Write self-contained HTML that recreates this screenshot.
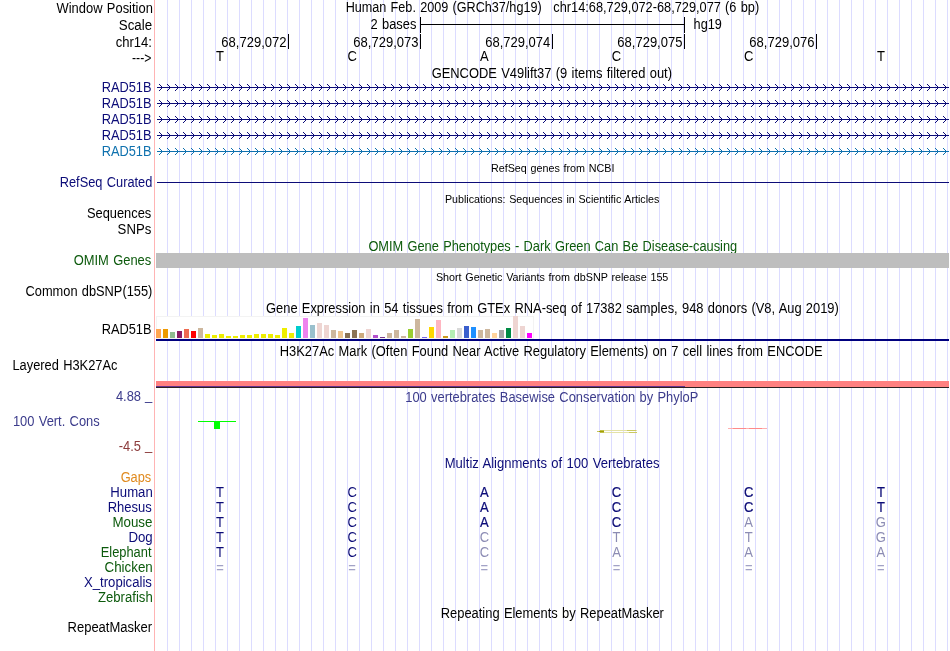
<!DOCTYPE html>
<html lang="en"><head><meta charset="utf-8"><title>UCSC Genome Browser - chr14:68,729,072-68,729,077</title>
<style>html,body{margin:0;padding:0;background:#fff;overflow:hidden}svg{display:block}text{font-family:"Liberation Sans",Arial,Helvetica,sans-serif;font-size:14px;fill:#000;word-spacing:0.8px}.r{text-anchor:end}.c{text-anchor:middle}.s{font-size:11.5px}</style></head><body>
<svg width="950" height="651" viewBox="0 0 950 651">
<defs><pattern id="chevN" x="155" y="84" width="8" height="16" patternUnits="userSpaceOnUse"><path d="M4 0h1v1h1v1h1v1h1v1h-1v1h-1v1h-1v1h-1v-1h1v-1h1v-1h1v-1h-1v-1h-1v-1h-1z" fill="#0c0c78"/></pattern><pattern id="chevT" x="155" y="84" width="8" height="16" patternUnits="userSpaceOnUse"><path d="M4 0h1v1h1v1h1v1h1v1h-1v1h-1v1h-1v1h-1v-1h1v-1h1v-1h1v-1h-1v-1h-1v-1h-1z" fill="#0e71ae"/></pattern></defs>
<rect width="950" height="651" fill="#fff"/>
<g shape-rendering="crispEdges">
<path d="M167 0v651M179 0v651M191 0v651M203 0v651M215 0v651M227 0v651M239 0v651M251 0v651M263 0v651M275 0v651M287 0v651M299 0v651M311 0v651M323 0v651M335 0v651M347 0v651M359 0v651M371 0v651M383 0v651M395 0v651M407 0v651M419 0v651M431 0v651M443 0v651M455 0v651M467 0v651M479 0v651M491 0v651M503 0v651M515 0v651M527 0v651M539 0v651M551 0v651M563 0v651M575 0v651M587 0v651M599 0v651M611 0v651M623 0v651M635 0v651M647 0v651M659 0v651M671 0v651M683 0v651M695 0v651M707 0v651M719 0v651M731 0v651M743 0v651M755 0v651M767 0v651M779 0v651M791 0v651M803 0v651M815 0v651M827 0v651M839 0v651M851 0v651M863 0v651M875 0v651M887 0v651M899 0v651M911 0v651M923 0v651M935 0v651M947 0v651" stroke="#dcdcff" stroke-width="1" transform="translate(.5 0)" fill="none"/>
<rect x="154" y="0" width="1" height="651" fill="#ffb4b4"/>
</g>
<text x="56.54" y="13" textLength="96.30" lengthAdjust="spacingAndGlyphs">Window Position</text>
<text x="118.80" y="30" textLength="33.30" lengthAdjust="spacingAndGlyphs">Scale</text>
<text x="115.64" y="46.5" textLength="36.35" lengthAdjust="spacingAndGlyphs">chr14:</text>
<text x="132.06" y="63" textLength="19.34" lengthAdjust="spacingAndGlyphs">---&gt;</text>
<text x="101.65" y="92" style="fill:#0c0c78" textLength="49.83" lengthAdjust="spacingAndGlyphs">RAD51B</text>
<text x="101.65" y="108" style="fill:#0c0c78" textLength="49.83" lengthAdjust="spacingAndGlyphs">RAD51B</text>
<text x="101.65" y="124" style="fill:#0c0c78" textLength="49.83" lengthAdjust="spacingAndGlyphs">RAD51B</text>
<text x="101.65" y="140" style="fill:#0c0c78" textLength="49.83" lengthAdjust="spacingAndGlyphs">RAD51B</text>
<text x="101.65" y="156" style="fill:#0e71ae" textLength="49.83" lengthAdjust="spacingAndGlyphs">RAD51B</text>
<text x="59.75" y="187" style="fill:#0c0c78" textLength="92.58" lengthAdjust="spacingAndGlyphs">RefSeq Curated</text>
<text x="86.92" y="218" textLength="64.35" lengthAdjust="spacingAndGlyphs">Sequences</text>
<text x="117.60" y="234" textLength="33.67" lengthAdjust="spacingAndGlyphs">SNPs</text>
<text x="73.69" y="265" style="fill:#0c5a0c" textLength="77.58" lengthAdjust="spacingAndGlyphs">OMIM Genes</text>
<text x="25.55" y="296" textLength="126.74" lengthAdjust="spacingAndGlyphs">Common dbSNP(155)</text>
<text x="101.65" y="334" textLength="49.83" lengthAdjust="spacingAndGlyphs">RAD51B</text>
<text x="12.45" y="370" textLength="104.99" lengthAdjust="spacingAndGlyphs">Layered H3K27Ac</text>
<text x="115.90" y="401" style="fill:#3c3c8c" textLength="25.16" lengthAdjust="spacingAndGlyphs">4.88</text>
<text x="145.10" y="399.9" style="fill:#3c3c8c" textLength="7.26" lengthAdjust="spacingAndGlyphs">_</text>
<text x="12.93" y="426" style="fill:#3c3c8c" textLength="86.74" lengthAdjust="spacingAndGlyphs">100 Vert. Cons</text>
<text x="118.83" y="451" style="fill:#8c3c3c" textLength="22.21" lengthAdjust="spacingAndGlyphs">-4.5</text>
<text x="145.10" y="449.9" style="fill:#8c3c3c" textLength="7.26" lengthAdjust="spacingAndGlyphs">_</text>
<text x="120.66" y="482" style="fill:#e08a1e" textLength="30.61" lengthAdjust="spacingAndGlyphs">Gaps</text>
<text x="110.32" y="497" style="fill:#0c0c78" textLength="42.43" lengthAdjust="spacingAndGlyphs">Human</text>
<text x="107.73" y="512" style="fill:#0c0c78" textLength="44.14" lengthAdjust="spacingAndGlyphs">Rhesus</text>
<text x="112.40" y="527" style="fill:#0c5a0c" textLength="40.09" lengthAdjust="spacingAndGlyphs">Mouse</text>
<text x="128.41" y="542" style="fill:#0c0c78" textLength="24.34" lengthAdjust="spacingAndGlyphs">Dog</text>
<text x="100.75" y="557" style="fill:#0c5a0c" textLength="50.75" lengthAdjust="spacingAndGlyphs">Elephant</text>
<text x="104.52" y="572" style="fill:#0c5a0c" textLength="48.25" lengthAdjust="spacingAndGlyphs">Chicken</text>
<text x="84.01" y="587" style="fill:#0c0c78" textLength="67.87" lengthAdjust="spacingAndGlyphs">X_tropicalis</text>
<text x="97.98" y="602" style="fill:#0c5a0c" textLength="54.77" lengthAdjust="spacingAndGlyphs">Zebrafish</text>
<text x="67.53" y="632" textLength="84.58" lengthAdjust="spacingAndGlyphs">RepeatMasker</text>
<text x="345.66" y="12" textLength="196.02" lengthAdjust="spacingAndGlyphs">Human Feb. 2009 (GRCh37/hg19)</text>
<text x="553.36" y="12" textLength="205.83" lengthAdjust="spacingAndGlyphs">chr14:68,729,072-68,729,077 (6 bp)</text>
<text x="370.55" y="29" textLength="45.81" lengthAdjust="spacingAndGlyphs">2 bases</text>
<text x="693.62" y="29" textLength="28.28" lengthAdjust="spacingAndGlyphs">hg19</text>
<g shape-rendering="crispEdges" fill="#000"><rect x="421" y="24" width="263" height="1"/><rect x="420" y="17" width="1" height="16"/><rect x="684" y="17" width="1" height="16"/></g>
<text x="221.34" y="47" textLength="65.22" lengthAdjust="spacingAndGlyphs">68,729,072</text>
<rect x="288" y="34" width="1" height="15" fill="#000" shape-rendering="crispEdges"/>
<text x="353.34" y="47" textLength="65.13" lengthAdjust="spacingAndGlyphs">68,729,073</text>
<rect x="420" y="34" width="1" height="15" fill="#000" shape-rendering="crispEdges"/>
<text x="485.34" y="47" textLength="64.94" lengthAdjust="spacingAndGlyphs">68,729,074</text>
<rect x="552" y="34" width="1" height="15" fill="#000" shape-rendering="crispEdges"/>
<text x="617.34" y="47" textLength="65.11" lengthAdjust="spacingAndGlyphs">68,729,075</text>
<rect x="684" y="34" width="1" height="15" fill="#000" shape-rendering="crispEdges"/>
<text x="749.34" y="47" textLength="65.13" lengthAdjust="spacingAndGlyphs">68,729,076</text>
<rect x="816" y="34" width="1" height="15" fill="#000" shape-rendering="crispEdges"/>
<text x="220.0" y="61" class="c" textLength="7.95" lengthAdjust="spacingAndGlyphs">T</text>
<text x="352.16999999999996" y="61" class="c" textLength="9.40" lengthAdjust="spacingAndGlyphs">C</text>
<text x="484.34" y="61" class="c" textLength="8.68" lengthAdjust="spacingAndGlyphs">A</text>
<text x="616.51" y="61" class="c" textLength="9.40" lengthAdjust="spacingAndGlyphs">C</text>
<text x="748.68" y="61" class="c" textLength="9.40" lengthAdjust="spacingAndGlyphs">C</text>
<text x="880.8499999999999" y="61" class="c" textLength="7.95" lengthAdjust="spacingAndGlyphs">T</text>
<text x="431.65" y="78" textLength="240.35" lengthAdjust="spacingAndGlyphs">GENCODE V49lift37 (9 items filtered out)</text>
<g shape-rendering="crispEdges" fill="#0c0c78"><rect x="157" y="87" width="792" height="1"/><rect x="157" y="84" width="792" height="7" fill="url(#chevN)"/></g>
<g shape-rendering="crispEdges" fill="#0c0c78"><rect x="157" y="103" width="792" height="1"/><rect x="157" y="100" width="792" height="7" fill="url(#chevN)"/></g>
<g shape-rendering="crispEdges" fill="#0c0c78"><rect x="157" y="119" width="792" height="1"/><rect x="157" y="116" width="792" height="7" fill="url(#chevN)"/></g>
<g shape-rendering="crispEdges" fill="#0c0c78"><rect x="157" y="135" width="792" height="1"/><rect x="157" y="132" width="792" height="7" fill="url(#chevN)"/></g>
<g shape-rendering="crispEdges" fill="#0e71ae"><rect x="157" y="151" width="792" height="1"/><rect x="157" y="148" width="792" height="7" fill="url(#chevT)"/></g>
<text x="490.92" y="172" class="s" textLength="123.47" lengthAdjust="spacingAndGlyphs">RefSeq genes from NCBI</text>
<rect x="157" y="182" width="792" height="1" fill="#0c0c78" shape-rendering="crispEdges"/>
<text x="444.93" y="203" class="s" textLength="214.46" lengthAdjust="spacingAndGlyphs">Publications: Sequences in Scientific Articles</text>
<text x="368.39" y="251" style="fill:#0c5a0c" textLength="368.83" lengthAdjust="spacingAndGlyphs">OMIM Gene Phenotypes - Dark Green Can Be Disease-causing</text>
<rect x="156" y="253" width="793" height="15" fill="#bebebe" shape-rendering="crispEdges"/>
<text x="435.91" y="280.5" class="s" textLength="232.44" lengthAdjust="spacingAndGlyphs">Short Genetic Variants from dbSNP release 155</text>
<text x="266.05" y="313" textLength="572.74" lengthAdjust="spacingAndGlyphs">Gene Expression in 54 tissues from GTEx RNA-seq of 17382 samples, 948 donors (V8, Aug 2019)</text>
<g shape-rendering="crispEdges">
<rect x="156" y="316" width="378" height="23" fill="#f3f3f3"/><rect x="157" y="317" width="376" height="21" fill="#fff"/>
<rect x="156" y="329" width="5" height="9" fill="#FFA54F"/>
<rect x="163" y="329" width="5" height="9" fill="#EE9A00"/>
<rect x="170" y="332" width="5" height="6" fill="#8FBC8F"/>
<rect x="177" y="331" width="5" height="7" fill="#8B1C62"/>
<rect x="184" y="329" width="5" height="9" fill="#EE6A50"/>
<rect x="191" y="331" width="5" height="7" fill="#FF0000"/>
<rect x="198" y="328" width="5" height="10" fill="#CDB79E"/>
<rect x="205" y="334" width="5" height="4" fill="#EEEE00"/>
<rect x="212" y="335" width="5" height="3" fill="#EEEE00"/>
<rect x="219" y="334" width="5" height="4" fill="#EEEE00"/>
<rect x="226" y="336" width="5" height="2" fill="#EEEE00"/>
<rect x="233" y="336" width="5" height="2" fill="#EEEE00"/>
<rect x="240" y="335" width="5" height="3" fill="#EEEE00"/>
<rect x="247" y="335" width="5" height="3" fill="#EEEE00"/>
<rect x="254" y="334" width="5" height="4" fill="#EEEE00"/>
<rect x="261" y="334" width="5" height="4" fill="#EEEE00"/>
<rect x="268" y="334" width="5" height="4" fill="#EEEE00"/>
<rect x="275" y="335" width="5" height="3" fill="#EEEE00"/>
<rect x="282" y="328" width="5" height="10" fill="#EEEE00"/>
<rect x="289" y="333" width="5" height="5" fill="#EEEE00"/>
<rect x="296" y="326" width="5" height="12" fill="#00CDCD"/>
<rect x="303" y="318" width="5" height="20" fill="#EE82EE"/>
<rect x="310" y="325" width="5" height="13" fill="#9AC0CD"/>
<rect x="317" y="323" width="5" height="15" fill="#EED5D2"/>
<rect x="324" y="325" width="5" height="13" fill="#EED5D2"/>
<rect x="331" y="330" width="5" height="8" fill="#CDB79E"/>
<rect x="338" y="331" width="5" height="7" fill="#EEC591"/>
<rect x="345" y="333" width="5" height="5" fill="#8B7355"/>
<rect x="352" y="330" width="5" height="8" fill="#8B7355"/>
<rect x="359" y="333" width="5" height="5" fill="#CDAA7D"/>
<rect x="366" y="329" width="5" height="9" fill="#EED5D2"/>
<rect x="373" y="335" width="5" height="3" fill="#B452CD"/>
<rect x="380" y="337" width="5" height="1" fill="#7A378B"/>
<rect x="387" y="333" width="5" height="5" fill="#CDB79E"/>
<rect x="394" y="330" width="5" height="8" fill="#CDB79E"/>
<rect x="401" y="336" width="5" height="2" fill="#CDB79E"/>
<rect x="408" y="329" width="5" height="9" fill="#9ACD32"/>
<rect x="415" y="319" width="5" height="19" fill="#CDB79E"/>
<rect x="422" y="337" width="5" height="1" fill="#7A67EE"/>
<rect x="429" y="327" width="5" height="11" fill="#FFD700"/>
<rect x="436" y="320" width="5" height="18" fill="#FFB6C1"/>
<rect x="443" y="336" width="5" height="2" fill="#CD9B1D"/>
<rect x="450" y="330" width="5" height="8" fill="#B4EEB4"/>
<rect x="457" y="328" width="5" height="10" fill="#D9D9D9"/>
<rect x="464" y="326" width="5" height="12" fill="#3A5FCD"/>
<rect x="471" y="327" width="5" height="11" fill="#1E90FF"/>
<rect x="478" y="330" width="5" height="8" fill="#CDB79E"/>
<rect x="485" y="329" width="5" height="9" fill="#CDB79E"/>
<rect x="492" y="333" width="5" height="5" fill="#FFD39B"/>
<rect x="499" y="330" width="5" height="8" fill="#A6A6A6"/>
<rect x="506" y="328" width="5" height="10" fill="#008B45"/>
<rect x="513" y="316" width="5" height="22" fill="#EED5D2"/>
<rect x="520" y="326" width="5" height="12" fill="#EED5D2"/>
<rect x="527" y="333" width="5" height="5" fill="#FF00FF"/>
<rect x="156" y="339" width="793" height="2" fill="#00007f"/>
</g>
<text x="279.74" y="356" textLength="542.81" lengthAdjust="spacingAndGlyphs">H3K27Ac Mark (Often Found Near Active Regulatory Elements) on 7 cell lines from ENCODE</text>
<g shape-rendering="crispEdges"><rect x="156" y="381" width="793" height="6" fill="#ff8080"/><rect x="156" y="386" width="529" height="1" fill="#64328c"/><rect x="156" y="387" width="793" height="1" fill="#2a2020"/></g>
<text x="405.22" y="402" style="fill:#3c3c8c" textLength="293.16" lengthAdjust="spacingAndGlyphs">100 vertebrates Basewise Conservation by PhyloP</text>
<g shape-rendering="crispEdges"><rect x="198" y="421" width="38" height="1" fill="#00ff00"/><rect x="214" y="421" width="6" height="8" fill="#00ff00"/></g>
<g shape-rendering="crispEdges"><rect x="601" y="430" width="36" height="1" fill="#e4e2a8"/><rect x="601" y="432" width="36" height="1" fill="#e4e2a8"/><rect x="627" y="430" width="9" height="1" fill="#cbc962"/><rect x="629" y="432" width="8" height="1" fill="#cbc962"/><rect x="600" y="430" width="4" height="1" fill="#c0be48"/><rect x="600" y="432" width="4" height="1" fill="#c0be48"/><rect x="597" y="431" width="2" height="1" fill="#c6c45a"/><rect x="599" y="431" width="5" height="1" fill="#a3a100"/></g>
<g shape-rendering="crispEdges"><rect x="728" y="428" width="39" height="1" fill="#ffb0b0"/><rect x="733" y="428" width="13" height="1" fill="#ff8a8a"/><rect x="749" y="428" width="13" height="1" fill="#ff8a8a"/></g>
<text x="444.74" y="468" style="fill:#0c0c78" textLength="214.73" lengthAdjust="spacingAndGlyphs">Multiz Alignments of 100 Vertebrates</text>
<text x="220.0" y="497" class="c" style="fill:#0c0c78" textLength="7.95" lengthAdjust="spacingAndGlyphs">T</text>
<text x="352.16999999999996" y="497" class="c" style="fill:#0c0c78" textLength="9.40" lengthAdjust="spacingAndGlyphs">C</text>
<text x="484.34" y="497" class="c" style="fill:#0c0c78" stroke="#0c0c78" stroke-width=".22" textLength="8.68" lengthAdjust="spacingAndGlyphs">A</text>
<text x="616.51" y="497" class="c" style="fill:#0c0c78" stroke="#0c0c78" stroke-width=".22" textLength="9.40" lengthAdjust="spacingAndGlyphs">C</text>
<text x="748.68" y="497" class="c" style="fill:#0c0c78" stroke="#0c0c78" stroke-width=".22" textLength="9.40" lengthAdjust="spacingAndGlyphs">C</text>
<text x="880.8499999999999" y="497" class="c" style="fill:#0c0c78" stroke="#0c0c78" stroke-width=".22" textLength="7.95" lengthAdjust="spacingAndGlyphs">T</text>
<text x="220.0" y="512" class="c" style="fill:#0c0c78" textLength="7.95" lengthAdjust="spacingAndGlyphs">T</text>
<text x="352.16999999999996" y="512" class="c" style="fill:#0c0c78" textLength="9.40" lengthAdjust="spacingAndGlyphs">C</text>
<text x="484.34" y="512" class="c" style="fill:#0c0c78" stroke="#0c0c78" stroke-width=".22" textLength="8.68" lengthAdjust="spacingAndGlyphs">A</text>
<text x="616.51" y="512" class="c" style="fill:#0c0c78" stroke="#0c0c78" stroke-width=".22" textLength="9.40" lengthAdjust="spacingAndGlyphs">C</text>
<text x="748.68" y="512" class="c" style="fill:#0c0c78" stroke="#0c0c78" stroke-width=".22" textLength="9.40" lengthAdjust="spacingAndGlyphs">C</text>
<text x="880.8499999999999" y="512" class="c" style="fill:#0c0c78" stroke="#0c0c78" stroke-width=".22" textLength="7.95" lengthAdjust="spacingAndGlyphs">T</text>
<text x="220.0" y="527" class="c" style="fill:#0c0c78" textLength="7.95" lengthAdjust="spacingAndGlyphs">T</text>
<text x="352.16999999999996" y="527" class="c" style="fill:#0c0c78" textLength="9.40" lengthAdjust="spacingAndGlyphs">C</text>
<text x="484.34" y="527" class="c" style="fill:#0c0c78" stroke="#0c0c78" stroke-width=".22" textLength="8.68" lengthAdjust="spacingAndGlyphs">A</text>
<text x="616.51" y="527" class="c" style="fill:#0c0c78" stroke="#0c0c78" stroke-width=".22" textLength="9.40" lengthAdjust="spacingAndGlyphs">C</text>
<text x="748.68" y="527" class="c" style="fill:#8c8cb4" textLength="8.68" lengthAdjust="spacingAndGlyphs">A</text>
<text x="880.8499999999999" y="527" class="c" style="fill:#8c8cb4" textLength="10.13" lengthAdjust="spacingAndGlyphs">G</text>
<text x="220.0" y="542" class="c" style="fill:#0c0c78" textLength="7.95" lengthAdjust="spacingAndGlyphs">T</text>
<text x="352.16999999999996" y="542" class="c" style="fill:#0c0c78" textLength="9.40" lengthAdjust="spacingAndGlyphs">C</text>
<text x="484.34" y="542" class="c" style="fill:#8c8cb4" textLength="9.40" lengthAdjust="spacingAndGlyphs">C</text>
<text x="616.51" y="542" class="c" style="fill:#8c8cb4" textLength="7.95" lengthAdjust="spacingAndGlyphs">T</text>
<text x="748.68" y="542" class="c" style="fill:#8c8cb4" textLength="7.95" lengthAdjust="spacingAndGlyphs">T</text>
<text x="880.8499999999999" y="542" class="c" style="fill:#8c8cb4" textLength="10.13" lengthAdjust="spacingAndGlyphs">G</text>
<text x="220.0" y="557" class="c" style="fill:#0c0c78" textLength="7.95" lengthAdjust="spacingAndGlyphs">T</text>
<text x="352.16999999999996" y="557" class="c" style="fill:#0c0c78" textLength="9.40" lengthAdjust="spacingAndGlyphs">C</text>
<text x="484.34" y="557" class="c" style="fill:#8c8cb4" textLength="9.40" lengthAdjust="spacingAndGlyphs">C</text>
<text x="616.51" y="557" class="c" style="fill:#8c8cb4" textLength="8.68" lengthAdjust="spacingAndGlyphs">A</text>
<text x="748.68" y="557" class="c" style="fill:#8c8cb4" textLength="8.68" lengthAdjust="spacingAndGlyphs">A</text>
<text x="880.8499999999999" y="557" class="c" style="fill:#8c8cb4" textLength="8.68" lengthAdjust="spacingAndGlyphs">A</text>
<text x="220.0" y="573.3" class="c" style="fill:#a2a2c6" textLength="7.60" lengthAdjust="spacingAndGlyphs">=</text>
<text x="352.16999999999996" y="573.3" class="c" style="fill:#a2a2c6" textLength="7.60" lengthAdjust="spacingAndGlyphs">=</text>
<text x="484.34" y="573.3" class="c" style="fill:#a2a2c6" textLength="7.60" lengthAdjust="spacingAndGlyphs">=</text>
<text x="616.51" y="573.3" class="c" style="fill:#a2a2c6" textLength="7.60" lengthAdjust="spacingAndGlyphs">=</text>
<text x="748.68" y="573.3" class="c" style="fill:#a2a2c6" textLength="7.60" lengthAdjust="spacingAndGlyphs">=</text>
<text x="880.8499999999999" y="573.3" class="c" style="fill:#a2a2c6" textLength="7.60" lengthAdjust="spacingAndGlyphs">=</text>
<text x="440.74" y="618" textLength="223.17" lengthAdjust="spacingAndGlyphs">Repeating Elements by RepeatMasker</text>
</svg></body></html>
